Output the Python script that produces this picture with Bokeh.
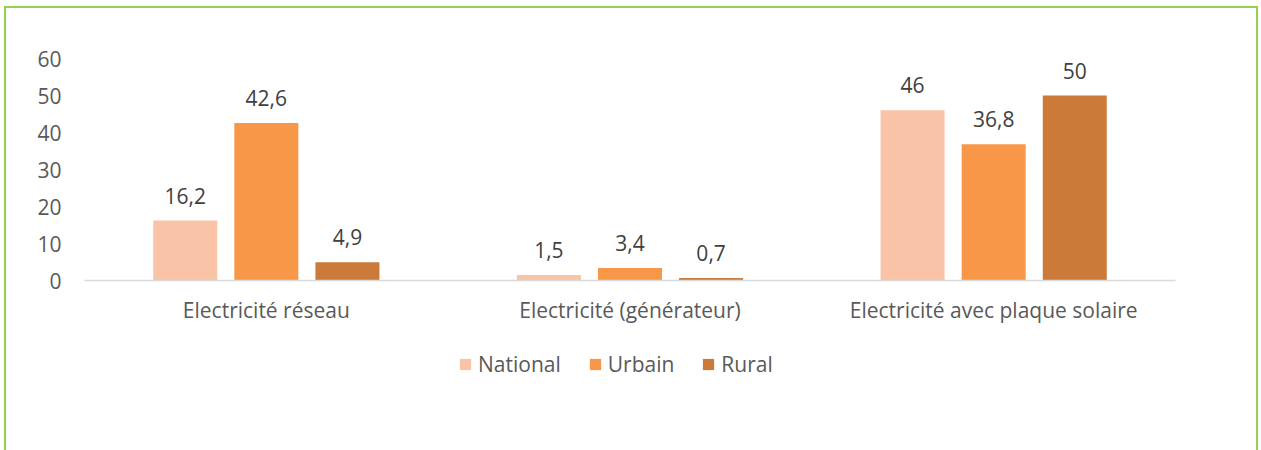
from bokeh.plotting import figure
from bokeh.models import (FactorRange, ColumnDataSource, Legend, LegendItem, FixedTicker, Range1d)
from bokeh.layouts import column
from bokeh.transform import dodge
from bokeh.core.properties import value
from bokeh.embed import file_html
from bokeh.resources import INLINE

categories = ["Electricité réseau", "Electricité (générateur)", "Electricité avec plaque solaire"]
series_names = ["National", "Urbain", "Rural"]
national = [16.2, 1.5, 46]
urbain = [42.6, 3.4, 36.8]
rural = [4.9, 0.7, 50]
y_ticks = [0, 10, 20, 30, 40, 50, 60]

colors = ["#F9C3A7", "#F79747", "#CB7A39"]
FONT = "Open Sans"
FS = "21px"

def fmt(v):
    s = ("%g" % v)
    return s.replace(".", ",")

p = figure(x_range=FactorRange(factors=categories, range_padding=0),
           y_range=Range1d(0, 60),
           frame_width=1091, frame_height=222, output_backend="svg", toolbar_location=None,
           min_border_left=78, min_border_right=81, min_border_top=50, min_border_bottom=56)
p.outline_line_color = None
p.xgrid.grid_line_color = None
p.ygrid.grid_line_color = None

src = ColumnDataSource(dict(cat=categories, national=national, urbain=urbain, rural=rural,
                            nl=[fmt(v) for v in national], ul=[fmt(v) for v in urbain],
                            rl=[fmt(v) for v in rural]))
offsets = [-0.223, 0.0, 0.223]
keys = ["national", "urbain", "rural"]
lkeys = ["nl", "ul", "rl"]
for off, k, lk, c in zip(offsets, keys, lkeys, colors):
    p.vbar(x=dodge("cat", off, range=p.x_range), top=k, width=0.176, source=src,
           fill_color=c, line_color=None)
    p.text(x=dodge("cat", off, range=p.x_range), y=k, text=lk, source=src,
           text_align="center", text_baseline="alphabetic", y_offset=-25,
           text_font=value(FONT), text_font_size=FS, text_color="#404040")

p.yaxis.ticker = FixedTicker(ticks=y_ticks)
p.yaxis.axis_line_color = None
p.yaxis.major_tick_line_color = None
p.yaxis.minor_tick_line_color = None
p.yaxis.major_tick_out = 0
p.yaxis.major_label_standoff = 23
p.yaxis.major_label_text_font = FONT
p.yaxis.major_label_text_font_size = FS
p.yaxis.major_label_text_color = "#595959"

p.xaxis.axis_line_color = "#D9D9D9"
p.xaxis.axis_line_width = 1.5
p.xaxis.major_tick_line_color = None
p.xaxis.minor_tick_line_color = None
p.xaxis.major_tick_out = 0
p.xaxis.major_label_standoff = 15
p.xaxis.major_label_text_font = FONT
p.xaxis.major_label_text_font_size = FS
p.xaxis.major_label_text_color = "#595959"

# legend strip below the chart (its bars lie outside the visible y range)
lg = figure(width=1250, height=120, output_backend="svg", toolbar_location=None,
            x_range=FactorRange(factors=categories, range_padding=0), y_range=Range1d(1000, 1001),
            x_axis_type=None, y_axis_type=None,
            min_border=0, min_border_left=0, min_border_right=0, min_border_top=0, min_border_bottom=0)
lg.outline_line_color = None
lg.xgrid.grid_line_color = None
lg.ygrid.grid_line_color = None
legend_renderers = [lg.vbar(x=dodge("cat", off, range=lg.x_range), top=k, width=0.176, source=src,
                            fill_color=c, line_color=None)
                    for off, k, c in zip(offsets, keys, colors)]
legend = Legend(items=[LegendItem(label=n, renderers=[r]) for n, r in zip(series_names, legend_renderers)],
                orientation="horizontal", location=(374, 78),
                label_text_font=FONT, label_text_font_size=FS, label_text_color="#595959",
                glyph_width=14, glyph_height=14, label_standoff=6, spacing=27,
                border_line_color=None, background_fill_alpha=0, margin=0, padding=0)
lg.add_layout(legend, "center")

layout = column(p, lg, spacing=0,
                styles={"border": "2px solid #92D050", "border-bottom": "none",
                        "margin-left": "4px", "margin-top": "6px"})

open("out.html", "w").write(file_html(layout, INLINE))
